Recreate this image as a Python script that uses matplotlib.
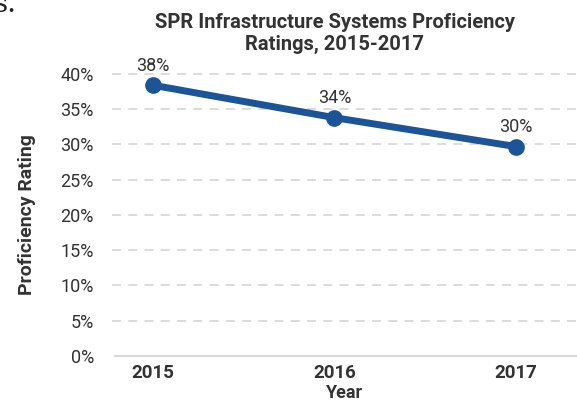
import matplotlib
matplotlib.use("Agg")
import matplotlib.pyplot as plt
from matplotlib.ticker import PercentFormatter

years = [2015, 2016, 2017]
ratings = [0.384, 0.338, 0.297]
point_labels = ["38%", "34%", "30%"]
y_ticks = [0, 0.05, 0.10, 0.15, 0.20, 0.25, 0.30, 0.35, 0.40]

plt.rcParams['font.family'] = ['Roboto', 'DejaVu Sans']
text_col = "#333333"
line_col = "#1B5497"

fig = plt.figure(figsize=(5.77, 4.07), dpi=100)
ax = fig.add_axes([0.194, 0.1253, 0.806, 0.693])

ax.plot(years, ratings, color=line_col, lw=5, marker="o", markersize=11,
        solid_capstyle="round", zorder=3)
for x, y, lab in zip(years, ratings, point_labels):
    ax.annotate(lab, (x, y), xytext=(0, 7.5), textcoords="offset points",
                ha="center", va="bottom", fontsize=13, color=text_col)

ax.set_xlim(2014.774, 2017.336)
ax.set_ylim(0, 0.40)
ax.set_yticks(y_ticks)
ax.yaxis.set_major_formatter(PercentFormatter(1.0, decimals=0))
ax.set_xticks(years)
ax.set_xticklabels([str(y) for y in years], fontweight="bold")

for v in y_ticks[1:]:
    ax.axhline(v, color="#d9d9d9", lw=1.3, ls=(0, (5, 4)), zorder=1, clip_on=False)

for s in ["top", "right", "left"]:
    ax.spines[s].set_visible(False)
ax.spines["bottom"].set_color("#d9d9d9")
ax.spines["bottom"].set_linewidth(1.5)
ax.spines["bottom"].set_bounds(2014.79, 2017.336)

ax.tick_params(axis="y", length=0, labelsize=13, colors=text_col, pad=13)
ax.tick_params(axis="x", length=0, labelsize=13.5, colors=text_col, pad=6)

ax.set_xlabel("Year", fontsize=13, fontweight="bold", color=text_col, labelpad=1)
ax.set_ylabel("Proficiency Rating", fontsize=14, fontweight="bold", color=text_col, labelpad=18)

fig.text(0.58, 0.918, "SPR Infrastructure Systems Proficiency\nRatings, 2015-2017",
         ha="center", va="center", fontsize=14.5, fontweight="bold", color=text_col,
         linespacing=1.2)

fig.text(-0.012, 1.022, "s.", ha="left", va="top", fontsize=20, color="#222222",
         family="DejaVu Serif")

fig.savefig("out.png", dpi=100)
